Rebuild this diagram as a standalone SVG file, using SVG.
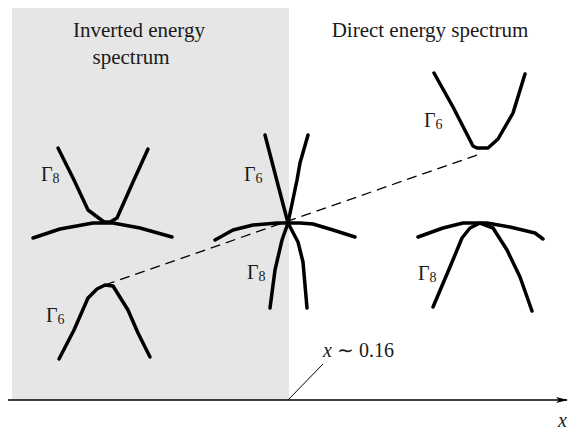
<svg xmlns="http://www.w3.org/2000/svg" width="570" height="430" viewBox="0 0 570 430">
<style>
.band{fill:none;stroke:#000;stroke-width:3.5;stroke-linecap:round;stroke-linejoin:round}
.dash{fill:none;stroke:#000;stroke-width:1.3;stroke-dasharray:10 6}
.t{font-family:"Liberation Serif","Times New Roman",serif;fill:#1a1a1a}
.big{font-size:21px}
.g{font-size:20px}
.s{font-size:14px}
</style>
<defs>
<marker id="arr" markerWidth="12" markerHeight="8" refX="11" refY="4" orient="auto" markerUnits="userSpaceOnUse">
<path d="M0,1 L12,4 L0,7 L3,4 Z" fill="#000"/>
</marker>
</defs>
<rect x="12" y="8" width="277" height="392" fill="#e6e6e6"/>
<text class="t big" x="139" y="37" text-anchor="middle">Inverted energy</text>
<text class="t big" x="131" y="64" text-anchor="middle">spectrum</text>
<text class="t big" x="430" y="37" text-anchor="middle">Direct energy spectrum</text>

<g id="connectors">
<polyline class="dash" points="105,285 480,154"/>
<line x1="8" y1="400" x2="567" y2="400" stroke="#000" stroke-width="1.5" marker-end="url(#arr)"/>
<line x1="288" y1="400" x2="323" y2="364" stroke="#000" stroke-width="1"/>
</g>

<g id="inv-gamma8">
<polyline class="band" points="58,148 74,180 88,210 104,222 110,222 117,218 133,182 148,149"/>
<polyline class="band" points="33,238 60,229 93,223 113,223 140,228 172,237"/>
<text class="t g" x="41" y="181">Γ<tspan class="s" dy="2">8</tspan></text>
</g>

<g id="inv-gamma6">
<polyline class="band" points="59,359 74,330 88,298 97,289 105,285 113,286 128,310 138,333 150,357"/>
<text class="t g" x="46" y="322">Γ<tspan class="s" dy="2">6</tspan></text>
</g>

<g id="cross">
<polyline class="band" points="265,135 278,185 288,223"/>
<polyline class="band" points="308,135 300,163 297,180 288,223"/>
<polyline class="band" points="288,223 282,240 275,270 270,308"/>
<polyline class="band" points="288,223 298,242 303,262 307,308"/>
<polyline class="band" points="215,240 233,230 253,225 277,223 300,223 313,224 333,230 355,237"/>
<text class="t g" x="244" y="181">Γ<tspan class="s" dy="2">6</tspan></text>
<text class="t g" x="247" y="279">Γ<tspan class="s" dy="2">8</tspan></text>
</g>

<g id="dir-gamma6">
<polyline class="band" points="434,73 453,107 473,146 477,148 488,148 498,139 513,113 525,74"/>
<text class="t g" x="424" y="127">Γ<tspan class="s" dy="2">6</tspan></text>
</g>

<g id="dir-gamma8">
<polyline class="band" points="418,237 443,228 463,223 487,223 510,227 535,233 543,239"/>
<polyline class="band" points="433,307 450,267 462,238 470,228 480,223 493,228 507,250 520,277 532,311"/>
<text class="t g" x="418" y="280">Γ<tspan class="s" dy="2">8</tspan></text>
</g>

<text class="t g" x="323" y="357"><tspan font-style="italic">x</tspan> ∼ 0.16</text>
<text class="t g" x="558" y="427" font-style="italic">x</text>
</svg>
